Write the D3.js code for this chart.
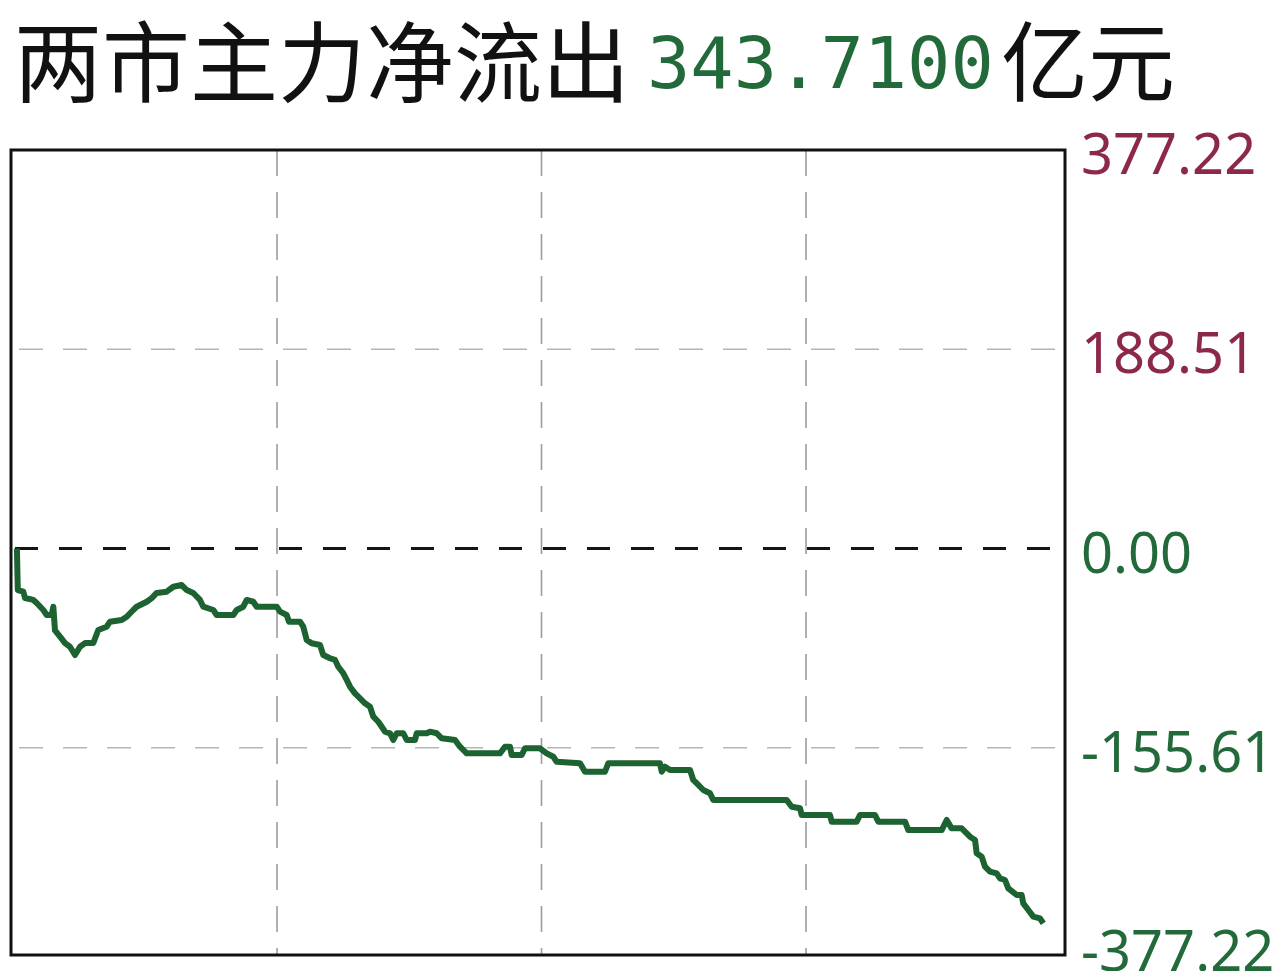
<!DOCTYPE html>
<html>
<head>
<meta charset="utf-8">
<script src="https://cdn.jsdelivr.net/npm/d3@7/dist/d3.min.js"></script>
<style>
  html, body { margin: 0; padding: 0; background: #ffffff; }
  svg { display: block; }
</style>
</head>
<body>
<svg id="chart" width="1280" height="971"></svg>
<script>
// ---------- data ----------
const titleText = "两市主力净流出";
const titleValue = "343.7100";
const titleUnit = "亿元";

// y ticks (values) and their printed labels
const yTickValues = [377.22, 188.51, 0, -188.51, -377.22];
const yTickLabels = ["377.22", "188.51", "0.00", "-155.61", "-377.22"];

// x grid (minutes of trading day, 0..240)
const xGridMinutes = [60, 120, 180];

// net flow line: minute of session and value (亿元)
const minutes = [1.0, 1.2, 2.45, 2.84, 4.72, 5.49, 6.99, 7.76, 8.89, 9.26, 9.64, 10.78, 11.91, 13.04, 14.18, 15.31, 16.45, 18.33, 19.46, 21.37, 22.12, 24.77, 25.91, 27.40, 28.17, 30.44, 31.58, 32.71, 34.98, 36.48, 38.38, 39.52, 41.01, 42.53, 43.28, 45.55, 46.32, 50.09, 50.86, 52.35, 53.13, 54.62, 55.39, 59.93, 60.68, 62.20, 62.72, 65.22, 65.96, 66.74, 67.87, 69.75, 70.50, 72.02, 73.16, 73.90, 75.04, 75.81, 76.56, 77.69, 78.83, 79.96, 81.10, 81.85, 82.98, 83.75, 84.50, 85.63, 86.38, 87.15, 88.65, 89.42, 91.30, 91.69, 93.96, 94.71, 96.23, 97.36, 100.38, 101.51, 103.03, 110.58, 111.72, 112.85, 113.24, 115.51, 116.26, 119.66, 121.18, 122.68, 123.45, 128.73, 129.87, 134.40, 135.15, 146.88, 147.27, 148.02, 149.16, 153.69, 154.43, 155.57, 156.70, 158.22, 158.97, 175.62, 176.75, 178.64, 179.02, 185.44, 185.83, 191.50, 192.25, 195.65, 196.40, 202.46, 203.21, 210.78, 211.92, 213.05, 215.32, 216.46, 217.20, 218.34, 218.72, 219.86, 220.61, 221.74, 223.26, 224.01, 225.14, 225.89, 227.80, 228.93, 229.29, 230.43, 231.56, 233.08, 233.83];
const flows = [0, -39.3, -40.9, -46.9, -48.7, -51.6, -58.2, -62.9, -62.9, -55.1, -77.6, -83.5, -89.5, -93.0, -100.8, -93.0, -89.5, -89.5, -77.1, -74.0, -69.3, -67.7, -64.6, -58.2, -55.1, -50.4, -46.9, -42.1, -40.9, -36.2, -34.6, -39.3, -42.1, -48.7, -55.1, -58.2, -62.9, -62.9, -58.2, -55.1, -48.7, -50.4, -55.1, -55.1, -59.8, -62.9, -69.3, -69.3, -74.0, -86.6, -89.7, -91.3, -100.8, -103.9, -105.5, -111.9, -118.1, -124.4, -130.8, -137.1, -141.8, -146.5, -149.8, -159.2, -164.0, -168.7, -173.4, -174.9, -181.3, -174.9, -174.9, -181.3, -181.3, -174.9, -174.9, -173.4, -174.9, -179.7, -181.3, -187.6, -193.9, -193.9, -187.6, -187.6, -195.5, -195.5, -189.1, -189.1, -193.9, -197.1, -201.8, -203.3, -211.3, -211.3, -203.3, -203.3, -211.3, -206.5, -209.6, -209.6, -219.1, -223.8, -228.6, -231.7, -238.1, -238.1, -244.4, -245.9, -252.3, -252.3, -258.6, -258.6, -252.3, -252.3, -258.6, -258.6, -266.5, -266.5, -257.0, -264.9, -264.9, -269.6, -272.8, -275.9, -288.5, -291.7, -301.2, -305.9, -307.5, -312.2, -313.8, -321.7, -328.0, -328.0, -335.9, -342.2, -348.5, -350.1, -354.8];

// ---------- layout ----------
const svg = d3.select("#chart");
const box = { left: 11, top: 150, right: 1065, bottom: 955 };

const x = d3.scaleLinear().domain([0, 240]).range([12.5, 1070.5]);
const y = d3.scaleLinear().domain([-377.22, 377.22]).range([947, 150]);

const GREEN = "#226a39";
const RED = "#8c2848";

svg.append("rect").attr("width", 1280).attr("height", 971).attr("fill", "#fff");

// ---------- title ----------
const t = svg.append("g");
t.append("text")
  .attr("x", 14).attr("y", 95)
  .attr("font-family", "'Noto Sans CJK SC', sans-serif")
  .attr("font-size", 88)
  .attr("fill", "#111")
  .text(titleText);
t.append("text")
  .attr("x", 647).attr("y", 88)
  .attr("font-family", "'DejaVu Sans Mono', monospace")
  .attr("font-size", 72)
  .attr("fill", GREEN)
  .text(titleValue);
t.append("text")
  .attr("x", 1001).attr("y", 95)
  .attr("font-family", "'Noto Sans CJK SC', sans-serif")
  .attr("font-size", 87)
  .attr("fill", "#111")
  .text(titleUnit);

// ---------- grid ----------
const grid = svg.append("g");
grid.selectAll("line.vg").data(xGridMinutes).join("line")
  .attr("class", "vg")
  .attr("x1", d => x(d)).attr("x2", d => x(d))
  .attr("y1", box.top).attr("y2", box.bottom)
  .attr("stroke", "#9c9c9c").attr("stroke-width", 1.6)
  .attr("stroke-dasharray", "26,16");

grid.selectAll("line.hg").data(yTickValues.filter(v => v !== 0 && Math.abs(v) < 377)).join("line")
  .attr("class", "hg")
  .attr("x1", box.left).attr("x2", box.right)
  .attr("y1", d => y(d)).attr("y2", d => y(d))
  .attr("stroke", "#b5b5b5").attr("stroke-width", 1.5)
  .attr("stroke-dasharray", "24,20")
  .attr("stroke-dashoffset", -8);

grid.append("line")
  .attr("x1", box.left + 4).attr("x2", box.right)
  .attr("y1", y(0)).attr("y2", y(0))
  .attr("stroke", "#141414").attr("stroke-width", 3.2)
  .attr("stroke-dasharray", "23,21");

// ---------- frame ----------
svg.append("rect")
  .attr("x", box.left).attr("y", box.top)
  .attr("width", box.right - box.left).attr("height", box.bottom - box.top)
  .attr("fill", "none").attr("stroke", "#111").attr("stroke-width", 3);

// ---------- line ----------
const pts = minutes.map((m, i) => [m, flows[i]]);
svg.append("path")
  .datum(pts)
  .attr("fill", "none")
  .attr("stroke", "#1d6231")
  .attr("stroke-width", 6)
  .attr("stroke-linejoin", "round")
  .attr("stroke-linecap", "butt")
  .attr("d", d3.line().x(d => x(d[0])).y(d => y(d[1])));

// ---------- right axis labels ----------
const axis = d3.axisRight(y)
  .tickValues(yTickValues)
  .tickSize(0)
  .tickPadding(0)
  .tickFormat((d, i) => yTickLabels[i]);

const ag = svg.append("g")
  .attr("transform", "translate(1081,0)")
  .call(axis);
ag.select(".domain").remove();
ag.selectAll("text")
  .attr("font-family", "'Noto Sans', sans-serif")
  .attr("font-size", 56)
  .attr("dy", "0.42em")
  .attr("x", 0)
  .attr("fill", (d, i) => i < 2 ? RED : GREEN);
</script>
</body>
</html>
